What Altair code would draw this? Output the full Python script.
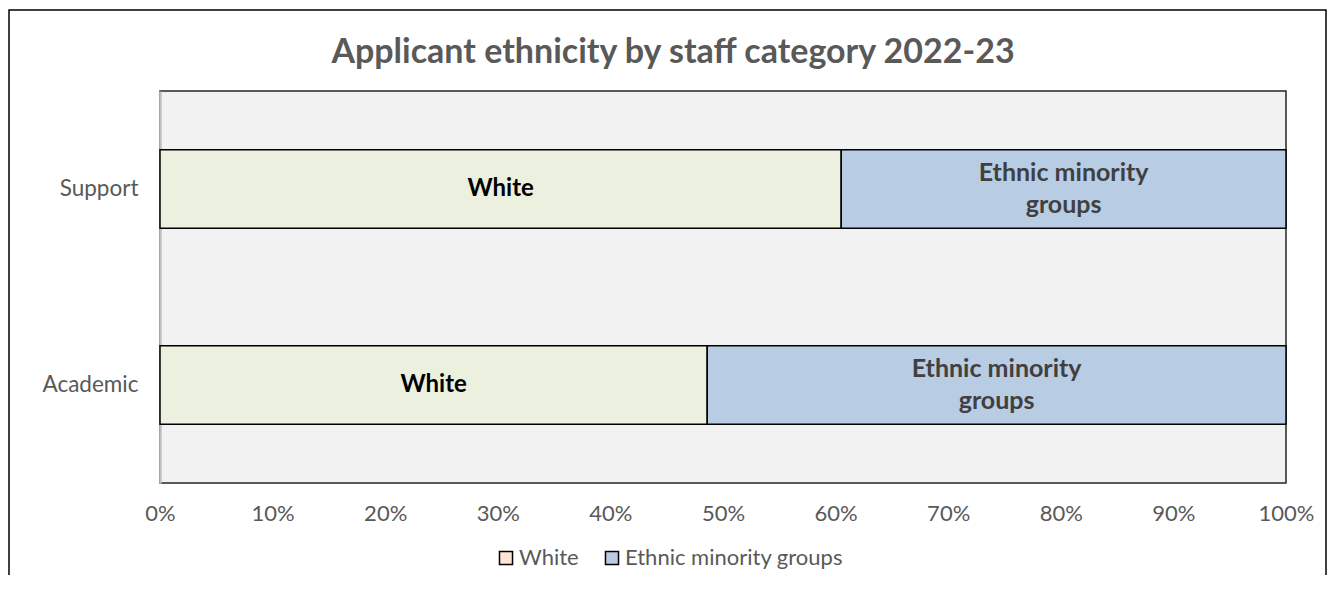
import altair as alt
import pandas as pd

categories = ["Support", "Academic"]
groups = ["White", "Ethnic minority groups"]
bar_labels = ["White", "Ethnic minority\ngroups"]
white_share = [0.605, 0.486]
minority_share = [0.395, 0.514]
bar_colors = ["#EBF1DE", "#B8CCE4"]
legend_colors = ["#FCE4D6", "#B8CCE4"]
tick_values = [0, 0.1, 0.2, 0.3, 0.4, 0.5, 0.6, 0.7, 0.8, 0.9, 1.0]

rows = []
for i, cat in enumerate(categories):
    shares = [white_share[i], minority_share[i]]
    start = 0.0
    for j, g in enumerate(groups):
        rows.append({"category": cat, "group": g, "label": bar_labels[j], "order": j,
                     "start": start, "end": start + shares[j], "mid": start + shares[j] / 2})
        start += shares[j]
df = pd.DataFrame(rows)

FONT = "Lato"

xenc = alt.X("start:Q", scale=alt.Scale(domain=[0, 1], nice=False),
             axis=alt.Axis(values=tick_values, format=".0%", title=None, grid=False,
                           ticks=False, domain=False, labelFontSize=22, labelColor="#595959",
                           labelPadding=20, labelFont=FONT, labelFlush=False))
yenc = alt.Y("category:N", sort=categories,
             scale=alt.Scale(paddingInner=0.6, paddingOuter=0.3),
             axis=alt.Axis(title=None, ticks=False, domain=True, domainColor="#BFBFBF",
                           domainWidth=2.5, labelFontSize=22.5, labelColor="#595959",
                           labelPadding=22, labelFont=FONT))

bars = alt.Chart(df).mark_bar(stroke="black", strokeWidth=1.5).encode(
    x=xenc,
    x2="end:Q",
    y=yenc,
    color=alt.Color("group:N", scale=alt.Scale(domain=groups, range=bar_colors), legend=None),
)

white_text = alt.Chart(df).transform_filter("datum.group === 'White'").mark_text(
    font=FONT, fontSize=24, fontWeight="bold", baseline="middle", color="#000000"
).encode(
    x=alt.X("mid:Q"),
    y=alt.Y("category:N", sort=categories),
    text="label:N",
)

minority_text = alt.Chart(df).transform_filter("datum.group !== 'White'").mark_text(
    font=FONT, fontSize=25, fontWeight="bold", baseline="middle", color="#404040",
    lineBreak="\n", lineHeight=32, dy=-16
).encode(
    x=alt.X("mid:Q"),
    y=alt.Y("category:N", sort=categories),
    text="label:N",
)

legend_df = pd.DataFrame({"group": groups})
legend_layer = alt.Chart(legend_df).transform_filter("false").mark_point(
    shape="square", filled=True, opacity=1).encode(
    x=alt.value(0), y=alt.value(0),
    fill=alt.Fill("group:N", scale=alt.Scale(domain=groups, range=legend_colors),
                  legend=alt.Legend(title=None, orient="none", legendX=335, legendY=456,
                                    direction="horizontal", symbolType="square",
                                    symbolSize=170, symbolStrokeColor="black",
                                    symbolStrokeWidth=1.5, symbolOpacity=1,
                                    labelFontSize=22, labelColor="#595959", labelFont=FONT,
                                    columnPadding=22, labelOffset=2, labelLimit=400)),
)

frame_df = pd.DataFrame({"k": [0]})
frame = alt.Chart(frame_df).mark_rect(fill=None, stroke="black", strokeWidth=1.5).encode(
    x=alt.value(-151), x2=alt.value(1166), y=alt.value(-81), y2=alt.value(620),
)

chart = alt.layer(frame, bars, white_text, minority_text, legend_layer).resolve_scale(
    color="independent", fill="independent"
).properties(
    width=1126,
    height=392,
    title=alt.TitleParams("Applicant ethnicity by staff category 2022-23", font=FONT,
                          fontSize=34, fontWeight="bold", color="#595959",
                          anchor="middle", baseline="alphabetic", offset=-88, dx=-50),
    padding={"left": 152, "top": 83, "right": 41, "bottom": 92},
    autosize=alt.AutoSizeParams(type="none"),
    background="white",
).configure_view(
    fill="#F2F2F2", stroke="#262626", strokeWidth=1.5
)

chart.save("out.html", embed_options={"renderer": "svg", "actions": False})
